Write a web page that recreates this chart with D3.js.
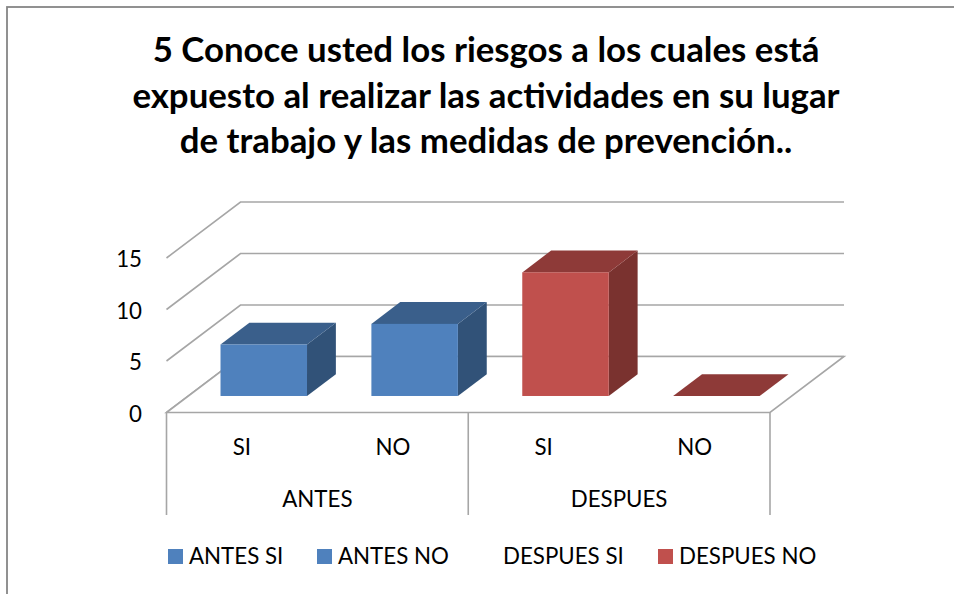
<!DOCTYPE html>
<html>
<head>
<meta charset="utf-8">
<script src="https://cdn.jsdelivr.net/npm/d3@7"></script>
<style>
  body { margin: 0; background: #fff; }
  text { font-family: Lato, "Open Sans", sans-serif; fill: #000; }
</style>
</head>
<body>
<div id="chart"></div>
<script>
// values
const categories = ["ANTES SI", "ANTES NO", "DESPUES SI", "DESPUES NO"];
const subLabels = ["SI", "NO", "SI", "NO"];
const groups = ["ANTES", "DESPUES"];
const values = [5, 7, 12, 0];
const barColors = ["#4f81bd", "#4f81bd", "#c0504d", "#c0504d"];
const topColors = ["#3a5f8b", "#3a5f8b", "#8e3a38", "#8e3a38"];
const sideColors = ["#315278", "#315278", "#7a322f", "#7a322f"];
const yTicks = [0, 5, 10, 15];
const titleLines = [
  "5 Conoce usted los riesgos a los cuales está",
  "expuesto al realizar las actividades en su lugar",
  "de trabajo y las medidas de prevención.."
];

const width = 954, height = 594;
const grid = "#a6a6a6";

const svg = d3.select("#chart").append("svg")
  .attr("width", width).attr("height", height);

const x = d3.scaleBand().domain(categories).range([166.5, 770]);
const xGroup = d3.scaleBand().domain(groups).range([166.5, 770]);
const y = d3.scaleLinear().domain([0, 15]).range([412.5, 258]);

// depth: fraction of the way from the front of the floor to the back wall
const depthX = 74, depthY = -56;
const px = (xv, d) => xv + d * depthX;
const py = (yv, d) => yv + d * depthY;
const line = d3.line();

// frame, right and bottom edges run off the page
svg.append("rect").attr("x", 7).attr("y", 7)
  .attr("width", 960).attr("height", 600)
  .attr("fill", "#fff").attr("stroke", "#868686").attr("stroke-width", 1.8);

// title
svg.append("g").selectAll("text").data(titleLines).join("text")
  .attr("x", 486).attr("y", (d, i) => 62 + i * 45.5)
  .attr("text-anchor", "middle")
  .attr("font-size", 34.8).attr("font-weight", 700)
  .text(d => d);

// walls: gridlines go back along the side, then across the back
svg.append("g").selectAll("path").data(yTicks).join("path")
  .attr("d", d => line([
    [x.range()[0], y(d)],
    [px(x.range()[0], 1), py(y(d), 1)],
    [px(x.range()[1], 1), py(y(d), 1)]
  ]))
  .attr("fill", "none").attr("stroke", grid).attr("stroke-width", 1.6);

// floor
const x0 = x.range()[0], x1 = x.range()[1];
svg.append("path")
  .attr("d", line([[x0, y(0)], [x1, y(0)], [px(x1, 1), py(y(0), 1)], [px(x0, 1), py(y(0), 1)]]) + "Z")
  .attr("fill", "#fff").attr("stroke", grid).attr("stroke-width", 1.6);

// bars
const barW = 86.5;
const barD = 0.39, barNear = 0.295;
const bars = svg.append("g").selectAll("g").data(categories).join("g");

bars.each(function (c, i) {
  const g = d3.select(this);
  const left = x(c) + (x.bandwidth() - barW) / 2;
  const xa = px(left, barNear), xb = px(left + barW, barNear);
  const base = py(y(0), barNear), top = py(y(values[i]), barNear);
  const dx = barD * depthX, dy = barD * depthY;
  if (values[i] > 0) {
    g.append("path")
      .attr("d", line([[xb, base], [xb + dx, base + dy], [xb + dx, top + dy], [xb, top]]) + "Z")
      .attr("fill", sideColors[i]);
  }
  g.append("path")
    .attr("d", line([[xa, top], [xb, top], [xb + dx, top + dy], [xa + dx, top + dy]]) + "Z")
    .attr("fill", topColors[i]);
  if (values[i] > 0) {
    g.append("rect").attr("x", xa).attr("y", top)
      .attr("width", barW).attr("height", base - top)
      .attr("fill", barColors[i]);
  }
});

// y axis labels
svg.append("g").selectAll("text").data(yTicks).join("text")
  .attr("x", 142).attr("y", d => y(d) + 9)
  .attr("text-anchor", "end").attr("font-size", 22.3)
  .text(d => d);

// category axis: separators
const seps = [x0, x(categories[2]), x1];
svg.append("g").selectAll("line").data(seps).join("line")
  .attr("x1", d => d).attr("x2", d => d)
  .attr("y1", y(0)).attr("y2", 515)
  .attr("stroke", grid).attr("stroke-width", 1.6);

svg.append("g").selectAll("text").data(subLabels).join("text")
  .attr("x", (d, i) => x(categories[i]) + x.bandwidth() / 2)
  .attr("y", 455).attr("text-anchor", "middle").attr("font-size", 22.3)
  .text(d => d);

svg.append("g").selectAll("text").data(groups).join("text")
  .attr("x", d => xGroup(d) + xGroup.bandwidth() / 2)
  .attr("y", 507).attr("text-anchor", "middle").attr("font-size", 22.3)
  .text(d => d);

// legend, third swatch is missing in the reference
const legendX = [168, 317, 482, 658];
const legend = svg.append("g").selectAll("g").data(categories).join("g")
  .attr("transform", (d, i) => "translate(" + legendX[i] + ",549)");
legend.filter((d, i) => i !== 2).append("rect")
  .attr("width", 15).attr("height", 15)
  .attr("fill", d => barColors[categories.indexOf(d)]);
legend.append("text")
  .attr("x", 21).attr("y", 15).attr("font-size", 22.3)
  .text(d => d);
</script>
</body>
</html>
